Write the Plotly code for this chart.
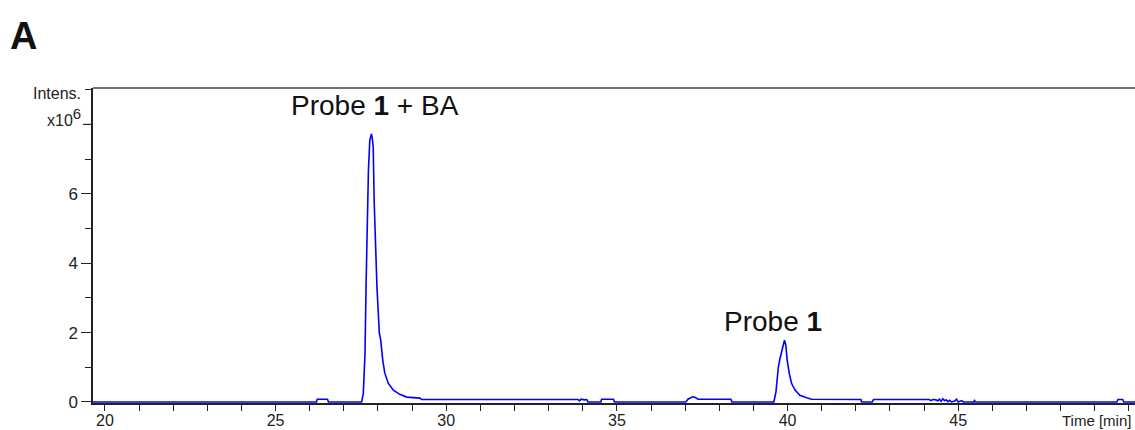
import plotly.graph_objects as go

# Retention time (min) and intensity (x10^6)
time_min = [19.65, 26.20, 26.22, 26.52, 26.55, 27.52, 27.57, 27.62, 27.65, 27.67,
            27.72, 27.76, 27.79, 27.81, 27.83, 27.86, 27.89, 27.93, 27.97, 28.04,
            28.08, 28.14, 28.20, 28.30, 28.45, 28.64, 28.84, 29.23, 29.28, 33.86,
            33.90, 33.95, 34.05, 34.12, 34.15, 34.53, 34.55, 34.90, 34.93, 37.02,
            37.08, 37.22, 37.30, 37.38, 38.34, 38.37, 39.60, 39.66, 39.73, 39.78,
            39.83, 39.87, 39.91, 39.95, 39.99, 40.05, 40.12, 40.22, 40.36, 40.56,
            40.70, 42.15, 42.17, 42.48, 42.52, 44.15, 44.20, 44.25, 44.35, 44.40,
            44.45, 44.50, 44.55, 44.60, 44.65, 44.70, 44.75, 44.80, 44.90, 44.95,
            45.00, 45.10, 45.15, 45.45, 45.48, 45.50, 49.65, 49.68, 49.82, 49.85,
            50.18]
intensity_e6 = [0.00, 0.00, 0.08, 0.08, 0.00, 0.00, 0.25, 1.40, 3.31, 4.57,
                6.68, 7.54, 7.70, 7.73, 7.62, 7.35, 5.73, 4.29, 3.31, 1.98,
                1.78, 1.20, 0.83, 0.54, 0.34, 0.22, 0.14, 0.11, 0.07, 0.07,
                0.03, 0.08, 0.06, 0.07, 0.00, 0.00, 0.08, 0.08, 0.00, 0.00,
                0.08, 0.15, 0.13, 0.08, 0.08, 0.00, 0.00, 0.29, 1.00, 1.26,
                1.49, 1.68, 1.78, 1.63, 1.20, 0.82, 0.53, 0.34, 0.19, 0.12,
                0.08, 0.07, 0.00, 0.00, 0.07, 0.07, 0.04, 0.07, 0.06, 0.03,
                0.08, 0.02, 0.09, 0.04, 0.06, 0.01, 0.05, 0.00, 0.03, 0.08,
                0.00, 0.04, 0.00, 0.00, 0.04, 0.00, 0.00, 0.07, 0.07, 0.00,
                0.00]

x_major = [20, 25, 30, 35, 40, 45]
x_minor = [v for v in range(20, 51) if v not in x_major]
y_major = [0, 2, 4, 6]
y_minor = [1, 3, 5, 7, 8, 9]

peak_labels = ["Probe <b>1</b> + BA", "Probe <b>1</b>"]
peak_label_x = [27.91, 39.57]
peak_label_y = [8.55, 2.32]

FONT = "Liberation Sans, Arial, sans-serif"

fig = go.Figure()
fig.add_trace(go.Scatter(x=time_min, y=intensity_e6, mode="lines",
                         line=dict(color="#0000ff", width=1.6),
                         showlegend=False, hoverinfo="skip"))

fig.update_layout(
    width=1135, height=430,
    margin=dict(l=93, r=0, t=88, b=27, autoexpand=False),
    paper_bgcolor="white", plot_bgcolor="white",
    font=dict(family=FONT, color="#222222"),
    xaxis=dict(range=[19.65, 50.18], showgrid=False, zeroline=False,
               automargin=False,
               showline=True, linecolor="#222222", linewidth=1.5,
               ticks="outside", ticklen=6, tickwidth=1.2, tickcolor="#222222",
               tickmode="array", tickvals=x_major, ticklabelstandoff=-4,
               tickfont=dict(size=16, family=FONT, color="#222222"),
               minor=dict(tickmode="array", tickvals=x_minor, ticks="outside",
                          ticklen=6, tickwidth=1.2, tickcolor="#222222")),
    yaxis=dict(range=[-0.03, 9.05], showgrid=False, zeroline=False,
               automargin=False,
               showline=True, linecolor="#222222", linewidth=1.5,
               ticks="outside", ticklen=10, tickwidth=1.2, tickcolor="#222222",
               tickmode="array", tickvals=y_major,
               tickfont=dict(size=17, family=FONT, color="#222222"),
               minor=dict(tickmode="array", tickvals=y_minor, ticks="outside",
                          ticklen=6, tickwidth=1.2, tickcolor="#222222")),
)

# top frame line
fig.add_shape(type="line", xref="paper", yref="paper", x0=0, x1=1, y0=1, y1=1,
              line=dict(color="#444444", width=1.5))
# longer tick at 8 (x10^6 level)
fig.add_shape(type="line", xref="paper", yref="y", x0=-10 / 1042, x1=0, y0=8, y1=8,
              line=dict(color="#222222", width=1.2))

for txt, xx, yy in zip(peak_labels, peak_label_x, peak_label_y):
    fig.add_annotation(x=xx, y=yy, xref="x", yref="y", text=txt, showarrow=False,
                       font=dict(size=28, family=FONT, color="#111111"),
                       xanchor="center", yanchor="middle")


def px_x(px):
    return (px - 93) / (1135 - 93)


def px_y(py):
    return (430 - 27 - py) / (430 - 88 - 27)


fig.add_annotation(x=px_x(83), y=px_y(93), xref="paper", yref="paper",
                   text="Intens.", showarrow=False,
                   font=dict(size=16, family=FONT, color="#222222"),
                   xanchor="right", yanchor="middle")
fig.add_annotation(x=px_x(83), y=px_y(117), xref="paper", yref="paper",
                   text="x10<sup><span style='font-size:15px'>6</span></sup>",
                   showarrow=False,
                   font=dict(size=16, family=FONT, color="#222222"),
                   xanchor="right", yanchor="middle")
fig.add_annotation(x=px_x(1133), y=px_y(420), xref="paper", yref="paper",
                   text="Time [min]", showarrow=False,
                   font=dict(size=15, family=FONT, color="#222222"),
                   xanchor="right", yanchor="middle")
fig.add_annotation(x=px_x(8), y=px_y(36), xref="paper", yref="paper",
                   text="<b>A</b>", showarrow=False,
                   font=dict(size=38, family=FONT, color="#111111"),
                   xanchor="left", yanchor="middle")

fig.write_html("out.html")
